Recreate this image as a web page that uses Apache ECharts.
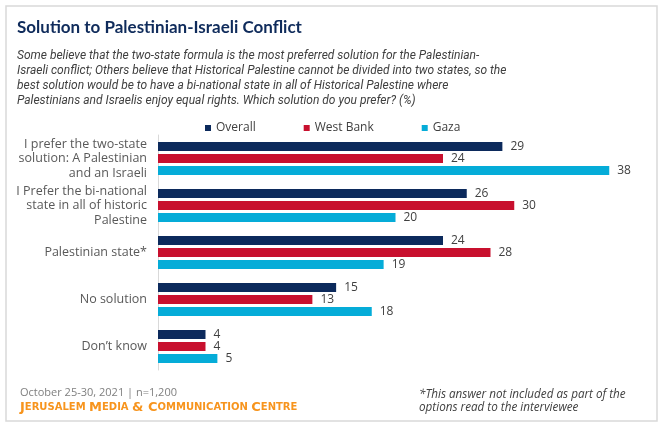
<!DOCTYPE html>
<html>
<head>
<meta charset="utf-8">
<script src="https://cdn.jsdelivr.net/npm/echarts@6/dist/echarts.min.js"></script>
<style>html,body{margin:0;padding:0;background:#fff;}#chart{width:664px;height:427px;}</style>
</head>
<body>
<div id="chart"></div>
<script>
var categories = [
  "I prefer the two-state\nsolution: A Palestinian\nand an Israeli",
  "I Prefer the bi-national\nstate in all of historic\nPalestine",
  "Palestinian state*",
  "No solution",
  "Don\u2019t know"
];
var seriesNames = ["Overall", "West Bank", "Gaza"];
var overall = [29, 26, 24, 15, 4];
var westBank = [24, 30, 28, 13, 4];
var gaza = [38, 20, 19, 18, 5];
var colors = ["#0c2a5c", "#c8102e", "#05acd8"];

var chart = echarts.init(document.getElementById('chart'), null, {renderer: 'canvas'});
var font = "'Open Sans', sans-serif";
var labelFontSize = 12.5;
var measureCtx = document.createElement('canvas').getContext('2d');
measureCtx.font = labelFontSize + "px 'Open Sans', sans-serif";
function centeredLabel(v) {
  if (v.indexOf('\n') < 0) return v;
  var lines = v.split('\n');
  var widths = lines.map(function (l) { return measureCtx.measureText(l).width; });
  var maxW = Math.max.apply(null, widths);
  return lines.map(function (l, i) {
    var pad = Math.round((maxW - widths[i]) / 2);
    return (pad > 0 ? '{p' + pad + '| }' : '') + '{t|' + l + '}';
  }).join('\n');
}
var rich = {t: {color: '#595959', fontSize: labelFontSize, fontFamily: font, lineHeight: 14.5}};
for (var k = 1; k <= 120; k++) rich['p' + k] = {width: k, fontSize: labelFontSize, lineHeight: 14.5};

function mkSeries(name, data, color) {
  return {
    name: name, type: 'bar', data: data, barWidth: 9, barGap: '33%',
    itemStyle: {color: color},
    label: {show: true, position: 'right', distance: 8, color: '#404040', fontSize: 12, fontFamily: font},
    animation: false
  };
}
chart.setOption({
  animation: false,
  color: colors,
  title: [
    {text: 'Solution to Palestinian-Israeli Conflict', left: 12, top: 14,
     textStyle: {color: '#0f2b5b', fontSize: 17, fontWeight: 'bold', fontFamily: "Lato, sans-serif"}},
    {text: 'Some believe that the two-state formula is the most preferred solution for the Palestinian-\nIsraeli conflict; Others believe that Historical Palestine cannot be divided into two states, so the\nbest solution would be to have a bi-national state in all of Historical Palestine where\nPalestinians and Israelis enjoy equal rights. Which solution do you prefer? (%)',
     left: 12, top: 43,
     textStyle: {color: '#404040', fontSize: 12, fontStyle: 'italic', fontWeight: 'normal', lineHeight: 15, fontFamily: "'Liberation Sans Narrow', 'Roboto', sans-serif"}},
    {text: 'October 25-30, 2021 | n=1,200', left: 15, top: 382,
     textStyle: {color: '#7f7f7f', fontSize: 11, fontWeight: 'normal', fontFamily: font}},
    {text: '{b|J}{s|ERUSALEM }{b|M}{s|EDIA }{b|& C}{s|OMMUNICATION }{b|C}{s|ENTRE}', left: 15, top: 396,
     textStyle: {rich: {
       b: {color: '#f7941d', fontSize: 13, fontWeight: 'bold', fontFamily: "'DejaVu Sans', sans-serif"},
       s: {color: '#f7941d', fontSize: 10, fontWeight: 'bold', fontFamily: "'DejaVu Sans', sans-serif"}
     }}},
    {text: '*This answer not included as part of the\noptions read to the interviewee', left: 414, top: 383,
     textStyle: {color: '#404040', fontSize: 11.7, fontStyle: 'italic', fontWeight: 'normal', lineHeight: 13, fontFamily: font}}
  ],
  legend: {
    data: seriesNames, left: 200, top: 117, icon: 'rect', itemWidth: 6, itemHeight: 6, itemGap: 48,
    textStyle: {color: '#404040', fontSize: 12, fontFamily: font}
  },
  grid: {left: 158, top: 135, width: 475, height: 235, containLabel: false},
  xAxis: {type: 'value', min: 0, max: 40, show: false},
  yAxis: {
    type: 'category', data: categories, inverse: true,
    axisLine: {show: true, lineStyle: {color: '#d9d9d9', width: 1}},
    axisTick: {show: false},
    axisLabel: {margin: 11, color: '#595959', fontSize: labelFontSize, fontFamily: font, lineHeight: 14.5,
      formatter: centeredLabel, rich: rich}
  },
  series: [
    mkSeries(seriesNames[0], overall, colors[0]),
    mkSeries(seriesNames[1], westBank, colors[1]),
    mkSeries(seriesNames[2], gaza, colors[2])
  ],
  graphic: [
    {type: 'rect', shape: {x: 6, y: 6, width: 651, height: 415}, style: {fill: 'none', stroke: '#d9d9d9', lineWidth: 1.5}, silent: true, z: -1}
  ]
});
</script>
</body>
</html>
